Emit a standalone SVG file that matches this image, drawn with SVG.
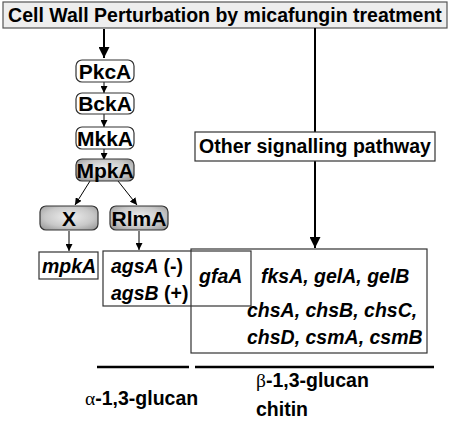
<svg xmlns="http://www.w3.org/2000/svg" width="450" height="421" viewBox="0 0 450 421">
  <defs>
    <radialGradient id="gg" cx="0.5" cy="0.45" r="0.7">
      <stop offset="0" stop-color="#eeeeee"/>
      <stop offset="0.6" stop-color="#c8c8c8"/>
      <stop offset="1" stop-color="#959595"/>
    </radialGradient>
    <marker id="ah" viewBox="0 0 10 10" refX="10" refY="5" markerWidth="7" markerHeight="7" markerUnits="userSpaceOnUse" orient="auto">
      <path d="M0,0 L10,5 L0,10 z" fill="#000"/>
    </marker>
    <marker id="ahb" viewBox="0 0 10 10" refX="10" refY="5" markerWidth="11" markerHeight="11" markerUnits="userSpaceOnUse" orient="auto">
      <path d="M0,0 L10,5 L0,10 z" fill="#000"/>
    </marker>
  </defs>
  <style>
    text { font-family: "Liberation Sans", Arial, sans-serif; font-weight: bold; fill: #000; }
    .t { font-size: 19.5px; }
    .n { font-size: 21px; text-anchor: middle; }
    .g { font-size: 19.5px; font-style: italic; }
    .node { fill: #fff; stroke: #333; stroke-width: 1.2; }
    .gray { fill: url(#gg); stroke: #333; stroke-width: 1.2; }
    .box { fill: none; stroke: #333; stroke-width: 1.2; }
    .c { stroke: #000; fill: none; }
    .greek { font-family: "Liberation Serif", "Times New Roman", serif; font-weight: normal; }
  </style>

  <g id="banner">
    <rect x="3" y="2" width="444" height="26" fill="#eeeeee" stroke="#555" stroke-width="1.2"/>
    <text class="t" x="225" y="22" text-anchor="middle">Cell Wall Perturbation by micafungin treatment</text>
  </g>

  <g id="connectors">
    <line class="c" x1="104" y1="29" x2="104" y2="58" stroke-width="2" marker-end="url(#ahb)"/>
    <line class="c" x1="315" y1="28" x2="315" y2="132" stroke-width="2"/>
    <line class="c" x1="315" y1="161" x2="315" y2="248" stroke-width="2" marker-end="url(#ahb)"/>
    <line class="c" x1="104" y1="82" x2="104" y2="93" stroke-width="1" marker-end="url(#ah)"/>
    <line class="c" x1="104" y1="114" x2="104" y2="127" stroke-width="1" marker-end="url(#ah)"/>
    <line class="c" x1="104" y1="149" x2="104" y2="160" stroke-width="1" marker-end="url(#ah)"/>
    <line class="c" x1="90" y1="181" x2="75" y2="205" stroke-width="1" marker-end="url(#ah)"/>
    <line class="c" x1="118" y1="181" x2="137" y2="205" stroke-width="1" marker-end="url(#ah)"/>
    <line class="c" x1="69" y1="231" x2="69" y2="251" stroke-width="1" marker-end="url(#ah)"/>
    <line class="c" x1="139" y1="231" x2="139" y2="250" stroke-width="1" marker-end="url(#ah)"/>
    <line class="c" x1="97" y1="367" x2="189" y2="367" stroke-width="2.5"/>
    <line class="c" x1="195" y1="367" x2="434" y2="367" stroke-width="2.5"/>
  </g>

  <g id="PkcA">
    <rect class="node" x="76" y="60" width="58" height="22" rx="6"/>
    <text class="n" x="105" y="78.5">PkcA</text>
  </g>
  <g id="BckA">
    <rect class="node" x="76" y="93" width="58" height="21" rx="6"/>
    <text class="n" x="105" y="111">BckA</text>
  </g>
  <g id="MkkA">
    <rect class="node" x="76" y="127" width="58" height="22" rx="6"/>
    <text class="n" x="105" y="145.5">MkkA</text>
  </g>
  <g id="MpkA">
    <rect class="gray" x="76" y="159" width="58" height="22" rx="6"/>
    <text class="n" x="105" y="177.5">MpkA</text>
  </g>
  <g id="X">
    <rect class="gray" x="40" y="206" width="58" height="24" rx="6"/>
    <text class="n" x="69" y="225.5">X</text>
  </g>
  <g id="RlmA">
    <rect class="gray" x="110" y="206" width="58" height="24" rx="6"/>
    <text class="n" x="139" y="225.5">RlmA</text>
  </g>

  <g id="other">
    <rect x="195" y="132" width="240" height="29" fill="#fff" stroke="#333" stroke-width="1.2"/>
    <text class="t" x="315" y="153" text-anchor="middle">Other signalling pathway</text>
  </g>

  <g id="mpkA">
    <rect class="box" x="39" y="252" width="59" height="27"/>
    <text class="g" x="69" y="273" text-anchor="middle">mpkA</text>
  </g>

  <g id="ags">
    <rect class="box" x="103" y="251" width="148" height="55"/>
    <text class="g" x="111" y="273">agsA <tspan font-style="normal">(-)</tspan></text>
    <text class="g" x="111" y="300">agsB <tspan font-style="normal">(+)</tspan></text>
  </g>

  <g id="genes">
    <rect class="box" x="191" y="249" width="236" height="104"/>
    <text class="g" x="199" y="283">gfaA</text>
    <text class="g" x="261" y="283" font-size="20px">fksA, gelA, gelB</text>
    <text class="g" x="247" y="317" font-size="20px">chsA, chsB, chsC,</text>
    <text class="g" x="247" y="344" font-size="20px">chsD, csmA, csmB</text>
  </g>

  <g id="labels">
    <text class="t" x="85" y="405"><tspan class="greek">α</tspan>-1,3-glucan</text>
    <text class="t" x="256" y="387"><tspan class="greek">β</tspan>-1,3-glucan</text>
    <text class="t" x="256" y="416">chitin</text>
  </g>
</svg>
